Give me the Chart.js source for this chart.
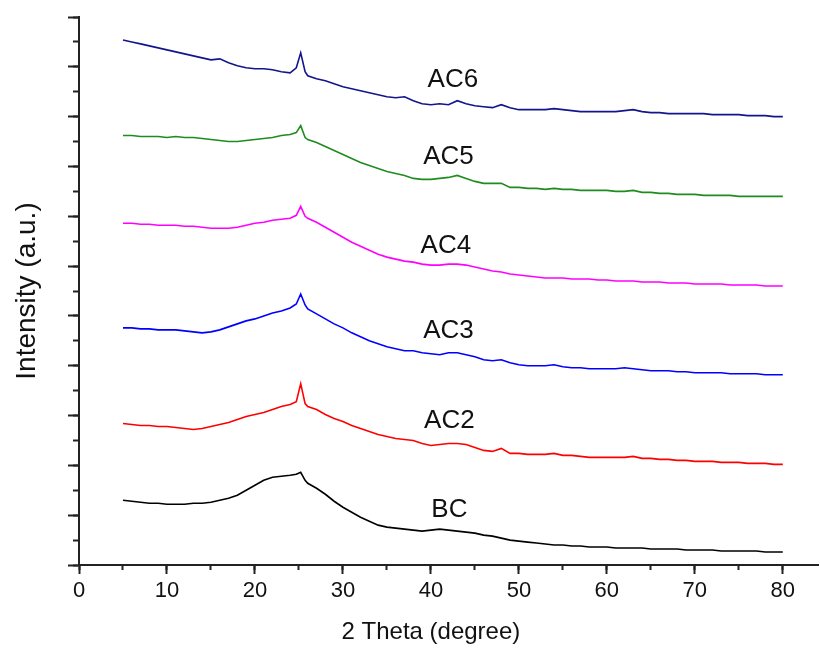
<!DOCTYPE html>
<html>
<head>
<meta charset="utf-8">
<script src="https://cdn.jsdelivr.net/npm/chart.js@4.4.1/dist/chart.umd.min.js"></script>
<style>
  body { margin: 0; background: #fff; }
  canvas { display: block; }
</style>
</head>
<body>
<canvas id="xrd" width="820" height="650"></canvas>
<script>
// 2 theta positions (degree)
const twoTheta = [
    5, 6, 7, 8, 9, 10, 11, 12, 13, 14, 15, 16, 17, 18, 19, 20, 21, 22, 23, 24,
    24.7, 25.2, 25.7,
    26, 27, 28, 29, 30, 31, 32, 33, 34, 35,
    36, 37, 38, 39, 40, 41, 42, 43, 44, 45,
    46, 47, 48, 49, 50, 51, 52, 53, 54, 55,
    56, 57, 58, 59, 60, 61, 62, 63, 64, 65,
    66, 67, 68, 69, 70, 71, 72, 73, 74, 75,
    76, 77, 78, 79, 80
];

// Intensity (a.u.), stacked curves as in the figure
const ac6 = [
    527, 525, 523, 521, 519, 517, 515, 513, 511, 509, 507, 508, 504, 501, 499, 498, 498, 497, 495, 494,
    499, 514, 495,
    491, 488, 486, 483, 480, 478, 476, 474, 472, 470,
    469, 470, 466, 463, 462, 463, 462, 466, 463, 461,
    460, 459, 462, 459, 457, 457, 457, 457, 458, 457,
    456, 455, 455, 455, 455, 455, 456, 457, 455, 454,
    454, 453, 453, 453, 453, 453, 452, 452, 452, 452,
    451, 451, 451, 450, 450
];
const ac5 = [
    431, 431, 430, 430, 430, 429, 430, 429, 429, 428, 427, 426, 425, 425, 426, 427, 428, 429, 431, 432,
    434, 441, 429,
    427, 424, 420, 416, 412, 408, 404, 401, 398, 395,
    393, 391, 388, 387, 387, 388, 389, 391, 388, 385,
    383, 383, 383, 379, 379, 378, 378, 377, 378, 377,
    377, 376, 376, 376, 376, 375, 375, 376, 374, 374,
    373, 373, 372, 372, 372, 371, 371, 371, 371, 370,
    370, 370, 370, 370, 370
];
const ac4 = [
    343, 343, 342, 342, 341, 341, 341, 340, 340, 339, 338, 338, 338, 339, 341, 343, 344, 346, 347, 348,
    351, 360, 350,
    348, 344, 339, 334, 329, 324, 320, 316, 312, 309,
    307, 305, 304, 302, 301, 301, 302, 302, 301, 299,
    297, 295, 294, 292, 291, 290, 289, 288, 288, 288,
    287, 287, 287, 286, 286, 285, 285, 285, 284, 284,
    284, 283, 283, 283, 282, 282, 282, 282, 281, 281,
    281, 281, 280, 280, 280
];
const ac3 = [
    238, 238, 237, 237, 236, 236, 236, 235, 234, 233, 234, 236, 239, 242, 245, 247, 250, 253, 255, 258,
    262, 272, 261,
    257, 252, 247, 242, 238, 233, 229, 225, 222, 219,
    217, 215, 215, 213, 212, 211, 213, 213, 211, 209,
    206, 205, 206, 203, 201, 200, 200, 200, 201, 199,
    198, 198, 197, 197, 197, 197, 198, 197, 196, 195,
    195, 195, 194, 194, 193, 193, 193, 193, 192, 192,
    192, 192, 191, 191, 191
];
const ac2 = [
    142, 141, 140, 140, 139, 139, 138, 137, 136, 137, 139, 141, 143, 146, 149, 151, 153, 156, 159, 161,
    164, 182, 162,
    159, 156, 151, 147, 144, 140, 137, 134, 131, 129,
    127, 126, 125, 122, 120, 121, 122, 122, 121, 118,
    115, 114, 117, 112, 112, 111, 111, 111, 112, 110,
    110, 109, 108, 108, 108, 108, 108, 109, 107, 107,
    106, 106, 105, 105, 104, 104, 104, 103, 103, 103,
    102, 102, 102, 101, 101
];
const bc = [
    65, 64, 63, 62, 62, 61, 61, 61, 62, 62, 63, 65, 67, 70, 75, 80, 85, 88, 89, 90,
    91, 93, 85,
    82, 77, 71, 64, 58, 53, 48, 44, 40, 38,
    37, 36, 35, 34, 35, 36, 35, 34, 33, 32,
    30, 29, 27, 25, 24, 23, 22, 21, 20, 20,
    19, 19, 18, 18, 18, 17, 17, 17, 17, 16,
    16, 16, 16, 15, 15, 15, 15, 14, 14, 14,
    14, 14, 13, 13, 13
];

const seriesNames = ['AC6', 'AC5', 'AC4', 'AC3', 'AC2', 'BC'];
const seriesValues = [ac6, ac5, ac4, ac3, ac2, bc];
const seriesColors = ['#14148c', '#1e8c1e', '#ff00ff', '#0000ff', '#ff0000', '#000000'];

// where each curve name sits (2 theta, intensity)
const nameTheta = [42.5, 42.0, 41.7, 42.0, 42.1, 42.1];
const nameIntensity = [487, 410, 320, 235, 145, 55];

const FONT = '"Liberation Sans", Arial, sans-serif';
const AXIS = '#222';

// Curve names next to each pattern, and the x title centred under 0..80
const curveNames = {
    id: 'curveNames',
    afterDraw(chart) {
        const { ctx, scales: { x, y } } = chart;
        ctx.save();
        ctx.font = '26px ' + FONT;
        ctx.fillStyle = '#111';
        ctx.textAlign = 'center';
        ctx.textBaseline = 'middle';
        seriesNames.forEach((name, i) => {
            ctx.fillText(name, x.getPixelForValue(nameTheta[i]), y.getPixelForValue(nameIntensity[i]));
        });
        ctx.font = '24px ' + FONT;
        ctx.fillText('2 Theta (degree)', x.getPixelForValue(40), 632);
        ctx.restore();
    }
};

const datasets = seriesNames.map((name, i) => ({
    label: name,
    data: twoTheta.map((t, j) => ({ x: t, y: seriesValues[i][j] })),
    borderColor: seriesColors[i],
    borderWidth: 1.6,
    pointRadius: 0,
    tension: 0,
    fill: false
}));

const upTo80 = s => { s.ticks = s.ticks.filter(t => t.value <= 80); };

const config = {
    type: 'line',
    data: { datasets: datasets },
    options: {
        responsive: false,
        animation: false,
        layout: { padding: { top: 17, right: 2, left: 0, bottom: 0 } },
        plugins: {
            legend: { display: false },
            tooltip: { enabled: false }
        },
        scales: {
            x: {
                type: 'linear',
                position: 'bottom',
                weight: 1,
                min: 0,
                max: 84,
                afterFit: s => { s.height = 85; },
                afterBuildTicks: upTo80,
                ticks: { stepSize: 10, includeBounds: false, padding: 4, color: '#111', font: { size: 22, family: FONT } },
                grid: { drawOnChartArea: false, tickLength: 9, tickWidth: 2, tickColor: AXIS },
                border: { color: AXIS, width: 2 }
            },
            xMinor: {
                type: 'linear',
                position: 'bottom',
                weight: 0,
                min: 0,
                max: 84,
                afterFit: s => { s.height = 0; },
                afterBuildTicks: upTo80,
                ticks: { stepSize: 5, includeBounds: false, display: false },
                grid: { drawOnChartArea: false, tickLength: 5, tickWidth: 2, tickColor: AXIS },
                border: { display: false }
            },
            y: {
                type: 'linear',
                position: 'left',
                weight: 1,
                min: 0,
                max: 550,
                afterFit: s => { s.width = 79; },
                ticks: { stepSize: 50, display: false },
                grid: { drawOnChartArea: false, tickLength: 11, tickWidth: 2, tickColor: AXIS },
                border: { color: AXIS, width: 2 },
                title: { display: true, text: 'Intensity (a.u.)', color: '#111', font: { size: 28, family: FONT }, padding: { top: 10, bottom: 0 } }
            },
            yMinor: {
                type: 'linear',
                position: 'left',
                weight: 0,
                min: 0,
                max: 550,
                afterFit: s => { s.width = 0; },
                ticks: { stepSize: 25, display: false },
                grid: { drawOnChartArea: false, tickLength: 6, tickWidth: 2, tickColor: AXIS },
                border: { display: false }
            }
        }
    },
    plugins: [curveNames]
};

new Chart(document.getElementById('xrd').getContext('2d'), config);
</script>
</body>
</html>
